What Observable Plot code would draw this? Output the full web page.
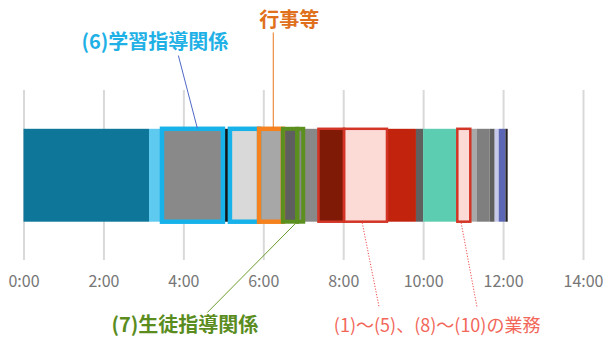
<!DOCTYPE html>
<html>
<head>
<meta charset="utf-8">
<script src="https://cdn.jsdelivr.net/npm/d3@7"></script>
<script src="https://cdn.jsdelivr.net/npm/@observablehq/plot@0.6"></script>
<style>
  body { margin: 0; background: #fff; }
  #chart svg { display: block; }
</style>
</head>
<body>
<div id="chart"></div>
<script>
// One working day, split into consecutive blocks of time (hours)
const segmentIds = ["s01","s02","s03","s04","s05","s06","s07","s08","s09","s10","s11",
                    "s12","s13","s14","s15","s16","s17","s18","s19","s20","s21"];
const segmentHours = [3.14, 0.325, 1.525, 0.175, 0.73, 0.595, 0.36, 0.15, 0.38, 0.64, 1.075,
                      0.725, 0.18, 0.855, 0.325, 0.155, 0.33, 0.125, 0.1, 0.17, 0.055];
// Which highlighted group each block belongs to ("" = none)
const segmentGroup = ["", "", "study", "", "study", "event", "guidance", "guidance", "", "other", "other",
                      "", "", "", "other", "", "", "", "", "", ""];
const tickHours = [0, 2, 4, 6, 8, 10, 12, 14];
const noteLabels = {
  study: "(6)学習指導関係",
  event: "行事等",
  guidance: "(7)生徒指導関係",
  other: "(1)〜(5)、(8)〜(10)の業務"
};

// Block fill colours, in block order
const palette = ["#0e7699","#5ecaf0","#898989","#151515","#d9d9d9","#a7a7a7","#5f5f5f","#898989",
                 "#888888","#7f1a07","#fcdad5","#c1230d","#5f5f5f","#5ccdb1","#fcdad5","#a8a8a8",
                 "#7f7f7f","#5f5f5f","#c6c9ea","#5b67b5","#222222"];

const starts = [0, ...d3.cumsum(segmentHours)];
const segments = segmentIds.map((id, i) => ({
  id,
  group: segmentGroup[i],
  start: starts[i],
  end: starts[i] + segmentHours[i]
}));

const outline = (group, stroke, strokeWidth) =>
  Plot.rect(segments.filter(d => d.group === group), {
    x1: "start", x2: "end", y1: 0, y2: 1,
    fill: "none", stroke, strokeWidth
  });

const note = (text, x, y, fill, fontSize, fontWeight) =>
  Plot.text([text], {x: () => x, y: () => y, text: d => d, fill, fontSize, fontWeight, textAnchor: "middle"});

const leader = (x1, y1, x2, y2, stroke, dash) =>
  Plot.link([0], {x1: () => x1, y1: () => y1, x2: () => x2, y2: () => y2,
                  stroke, strokeWidth: 1, strokeDasharray: dash});

const chart = Plot.plot({
  width: 603,
  height: 338,
  marginLeft: 23.5,
  marginRight: 20,
  marginTop: 90,
  marginBottom: 78,
  style: {fontFamily: '"Noto Sans CJK JP", "Noto Sans", sans-serif', background: "#fff", color: "#767676"},
  x: {domain: [0, 14]},
  y: {domain: [0, 1], range: [221.7, 128.8], axis: null},
  color: {type: "ordinal", domain: segmentIds, range: palette},
  marks: [
    Plot.gridX(tickHours, {stroke: "#d9d9d9", strokeOpacity: 1, strokeWidth: 2}),
    Plot.axisX(tickHours, {
      anchor: "bottom", tickSize: 0, tickPadding: 15, fontSize: 16,
      tickFormat: d => `${d}:00`, label: null, fill: "#767676"
    }),
    Plot.rect(segments, {x1: "start", x2: "end", y1: 0, y2: 1, fill: "id"}),
    outline("study", "#17b2ea", 4.5),
    outline("event", "#f5821f", 4.5),
    outline("guidance", "#5b8f1e", 4),
    outline("other", "#d23526", 2.5),
    // leader lines
    leader(3.8625, 1.794, 4.3375, 1.01, "#5068c8"),
    leader(6.2375, 2.042, 6.2375, 1.01, "#e8781f"),
    leader(4.5875, -0.972, 6.8125, -0.005, "#6a9c2a"),
    leader(8.4625, -0.005, 8.8875, -0.918, "#f04a4a", "1.2,1.6"),
    leader(10.9375, -0.005, 11.3375, -0.918, "#f04a4a", "1.2,1.6"),
    // labels
    note(noteLabels.study, 3.275, 1.934, "#1fb1e6", 20, "bold"),
    note(noteLabels.event, 6.6375, 2.171, "#e0701c", 20, "bold"),
    note(noteLabels.guidance, 4.025, -1.112, "#5a8c1e", 20, "bold"),
    note(noteLabels.other, 10.3375, -1.123, "#f2675a", 18, "normal")
  ]
});

document.getElementById("chart").appendChild(chart);
</script>
</body>
</html>
